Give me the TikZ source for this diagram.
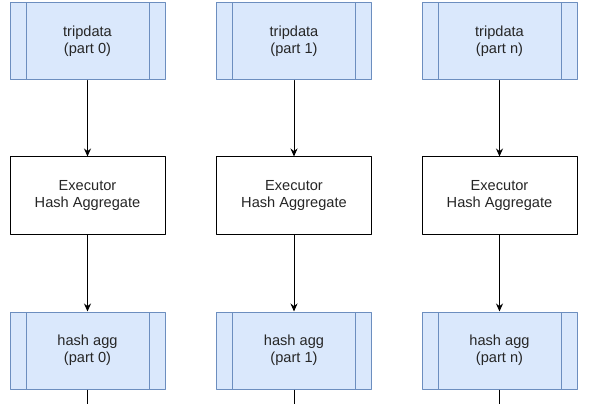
\documentclass[tikz,border=0pt]{standalone}
\usepackage{fontspec}
\setmainfont{Liberation Sans}
\usetikzlibrary{arrows.meta}

\definecolor{partfill}{HTML}{DAE8FC}
\definecolor{partline}{HTML}{6C8EBF}

\begin{document}
\begin{tikzpicture}[>=Stealth,x=1pt,y=1pt,line cap=round,line join=round,
  partbox/.style={draw=partline,fill=partfill,line width=1pt,
    minimum width=155pt,minimum height=77pt,align=center,
    font=\fontsize{14.6}{17}\selectfont,text=black!85,
    path picture={
      \draw[partline,line width=1pt]
        ([xshift=16pt]path picture bounding box.north west) --
        ([xshift=16pt]path picture bounding box.south west)
        ([xshift=-16pt]path picture bounding box.north east) --
        ([xshift=-16pt]path picture bounding box.south east);}},
  execbox/.style={draw=black,fill=white,line width=1pt,
    minimum width=155pt,minimum height=77pt,align=center,
    font=\fontsize{14.6}{17}\selectfont,text=black!85},
  flow/.style={->,line width=1pt,
    >={Stealth[length=8pt,width=7pt]}}]
  \useasboundingbox (0,0) rectangle (590,-404);

  % --- input partitions ---
  \node[partbox] (trip0) at (87.5,-41.5) {tripdata\\(part 0)};
  \node[partbox] (trip1) at (294,-41.5)  {tripdata\\(part 1)};
  \node[partbox] (tripn) at (499.5,-41.5) {tripdata\\(part n)};

  % --- executors ---
  \node[execbox] (exec0) at (87.5,-195.5) {Executor\\Hash Aggregate};
  \node[execbox] (exec1) at (294,-195.5)  {Executor\\Hash Aggregate};
  \node[execbox] (execn) at (499.5,-195.5) {Executor\\Hash Aggregate};

  % --- partial aggregates ---
  \node[partbox] (agg0) at (87.5,-350.5) {hash agg\\(part 0)};
  \node[partbox] (agg1) at (294,-350.5)  {hash agg\\(part 1)};
  \node[partbox] (aggn) at (499.5,-350.5) {hash agg\\(part n)};

  % --- leads running off the bottom ---
  \coordinate (out0) at (87.5,-404);
  \coordinate (out1) at (294,-404);
  \coordinate (outn) at (499.5,-404);

  % --- connectors ---
  \draw[flow] (trip0) -- (exec0);
  \draw[flow] (trip1) -- (exec1);
  \draw[flow] (tripn) -- (execn);
  \draw[flow] (exec0) -- (agg0);
  \draw[flow] (exec1) -- (agg1);
  \draw[flow] (execn) -- (aggn);
  \draw[line width=1pt,line cap=butt] (agg0) -- (out0);
  \draw[line width=1pt,line cap=butt] (agg1) -- (out1);
  \draw[line width=1pt,line cap=butt] (aggn) -- (outn);
\end{tikzpicture}
\end{document}
